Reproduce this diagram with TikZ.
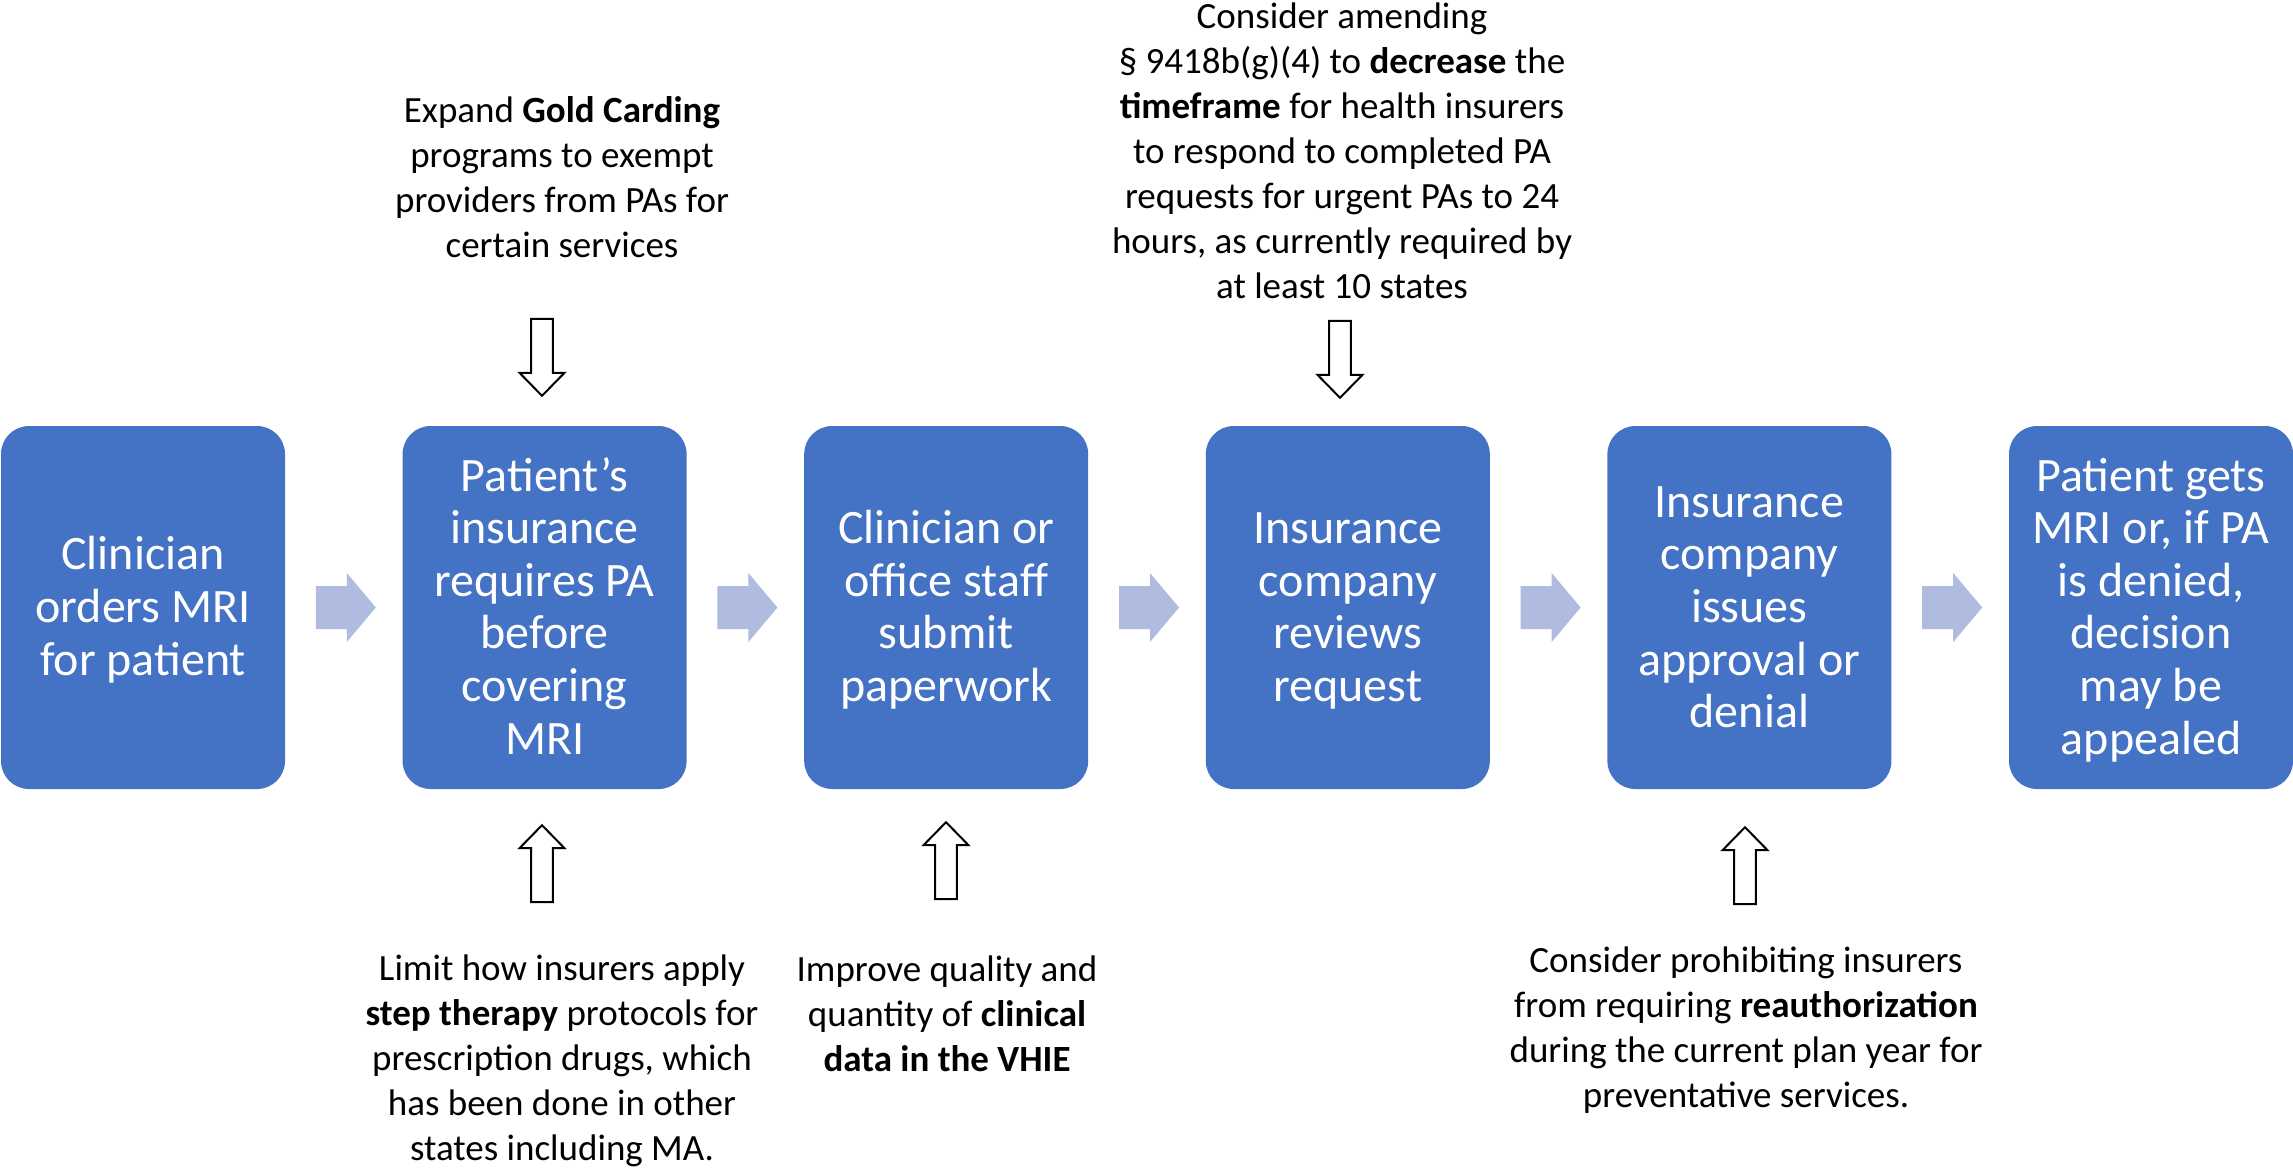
\documentclass[tikz,border=0pt]{standalone}
\usepackage{fontspec}
\setmainfont{Carlito}
\usetikzlibrary{calc}
\definecolor{boxblue}{HTML}{4472C4}
\definecolor{chevc}{HTML}{B0BCDF}
\newcommand\hfirst{\rule{0pt}{0.75em}}
\newcommand\bfirst{\rule{0pt}{42pt}}
\newcommand\hlast{\rule[-0.25em]{0pt}{0.25em}}
\tikzset{
  stepbox/.style={rectangle, rounded corners=28pt, fill=boxblue, text=white,
    minimum width=284pt, minimum height=363pt, inner sep=0pt, align=center,
    font=\fontsize{48}{52.6}\selectfont},
  note/.style={anchor=north, inner sep=0pt, align=center, text=black,
    font=\fontsize{37}{45}\selectfont},
  chev/.pic={\fill[chevc] (-30,-21.5) -- (1,-21.5) -- (1,-34.5) -- (30,0) -- (1,34.5) -- (1,21.5) -- (-30,21.5) -- cycle;},
  hdown/.pic={\draw[line width=2pt, fill=white, line join=miter] (-10.8,0) -- (10.8,0) -- (10.8,54) -- (22.5,54) -- (0,77) -- (-22.5,54) -- (-10.8,54) -- cycle;},
  hup/.pic={\draw[line width=2pt, fill=white, line join=miter] (-10.8,77) -- (10.8,77) -- (10.8,23) -- (22.5,23) -- (0,0) -- (-22.5,23) -- (-10.8,23) -- cycle;}
}
\begin{document}
\begin{tikzpicture}[x=1pt,y=-1pt]
\useasboundingbox[fill=white] (0,0) rectangle (2293,1168);

% process boxes
\node[stepbox] (b1) at (143,607.5) {\bfirst Clinician\\orders MRI\\for patient\hlast};
\node[stepbox] (b2) at (544.6,607.5) {\bfirst Patient’s\\insurance\\requires PA\\before\\covering\\MRI\hlast};
\node[stepbox] (b3) at (946.2,607.5) {\bfirst Clinician or\\office staff\\submit\\paperwork\hlast};
\node[stepbox] (b4) at (1347.8,607.5) {\bfirst Insurance\\company\\reviews\\request\hlast};
\node[stepbox] (b5) at (1749.4,607.5) {\bfirst Insurance\\company\\issues\\approval or\\denial\hlast};
\node[stepbox] (b6) at (2151,607.5) {\bfirst Patient gets\\MRI or, if PA\\is denied,\\decision\\may be\\appealed\hlast};

% chevron connectors
\pic at ($(b1.east)!0.5!(b2.west)+(2,0)$) {chev};
\pic at ($(b2.east)!0.5!(b3.west)+(2,0)$) {chev};
\pic at ($(b3.east)!0.5!(b4.west)+(2,0)$) {chev};
\pic at ($(b4.east)!0.5!(b5.west)+(2,0)$) {chev};
\pic at ($(b5.east)!0.5!(b6.west)+(2,0)$) {chev};

% notes
\node[note] (tGold) at (562,94.8) {\hfirst Expand \textbf{Gold Carding}\\programs to exempt\\providers from PAs for\\certain services};
\node[note] (tTime) at (1342,0.8) {\hfirst Consider amending\\§ 9418b(g)(4) to \textbf{decrease} the\\\textbf{timeframe} for health insurers\\to respond to completed PA\\requests for urgent PAs to 24\\hours, as currently required by\\at least 10 states};
\node[note] (tStep) at (562,952.8) {\hfirst Limit how insurers apply\\\textbf{step therapy} protocols for\\prescription drugs, which\\has been done in other\\states including MA.};
\node[note] (tVhie) at (947,953.8) {\hfirst Improve quality and\\quantity of \textbf{clinical}\\\textbf{data in the VHIE}};
\node[note] (tReauth) at (1746,944.3) {\hfirst Consider prohibiting insurers\\from requiring \textbf{reauthorization}\\during the current plan year for\\preventative services.};

% hollow arrows
\pic at ($(b2.north)+(-2.6,-107)$) {hdown};
\pic at ($(b4.north)+(-7.8,-105)$) {hdown};
\pic at ($(b2.south)+(-2.6,36)$) {hup};
\pic at ($(b3.south)+(-0.2,33)$) {hup};
\pic at ($(b5.south)+(-4.4,38)$) {hup};
\end{tikzpicture}
\end{document}
